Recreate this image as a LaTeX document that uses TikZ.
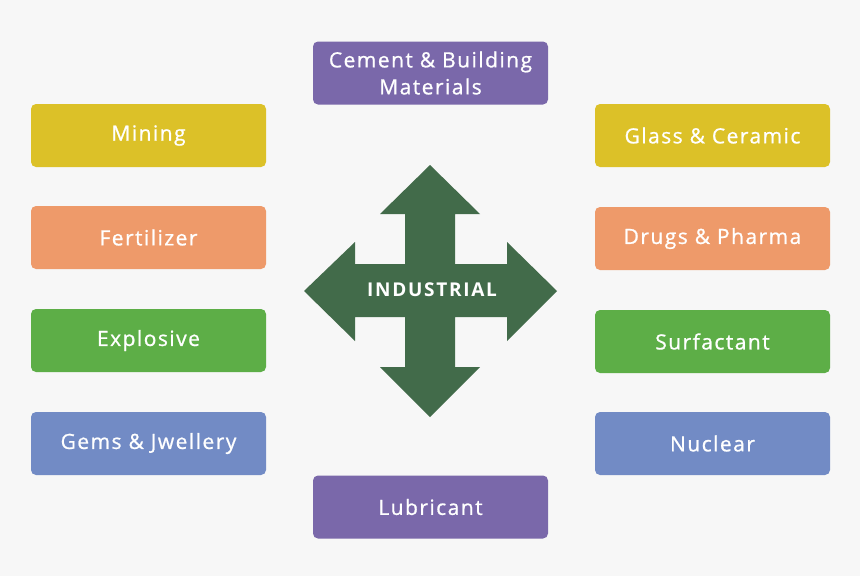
\documentclass[tikz,border=0pt]{standalone}
\usepackage{fontspec}
\setmainfont{Open Sans}[LetterSpace=7,FakeBold=0.9]
\newfontfamily\boldlab{Open Sans}[LetterSpace=9]
\definecolor{bg}{HTML}{F7F7F7}
\definecolor{cyel}{HTML}{DCC128}
\definecolor{cora}{HTML}{EE9A6A}
\definecolor{cgrn}{HTML}{5DAE47}
\definecolor{cblu}{HTML}{728BC5}
\definecolor{cpur}{HTML}{7A68AA}
\definecolor{carr}{HTML}{426B4A}
\begin{document}
\begin{tikzpicture}[x=1pt,y=-1pt,
  catbox/.style={rounded corners=5pt, minimum width=235pt, minimum height=63pt,
    text=white, font=\fontsize{21}{27}\selectfont, align=center, inner sep=2pt}]
\useasboundingbox (0,0) rectangle (860,576);
\fill[bg] (0,0) rectangle (860,576);
% central arrow
\fill[carr] (430,165) -- (480,214) -- (455,214) -- (455,264) -- (507,264) -- (507,242)
  -- (557,291) -- (507,341) -- (507,317) -- (455,317) -- (455,367) -- (480,367)
  -- (430,417) -- (380,367) -- (405,367) -- (405,317) -- (355,317) -- (355,341)
  -- (304,291) -- (355,242) -- (355,264) -- (405,264) -- (405,214) -- (380,214) -- cycle;
\node[text=white, font=\boldlab\bfseries\fontsize{19}{24}\selectfont] (ind) at (432,290) {INDUSTRIAL};
% boxes
\node[catbox, fill=cpur] (cem) at (430.5,73) {Cement \& Building\\Materials};
\node[catbox, fill=cyel] (min) at (148.5,135.5) {Mining};
\node[catbox, fill=cora] (fer) at (148.5,237.5) {Fertilizer};
\node[catbox, fill=cgrn] (exp) at (148.5,340.5) {Explosive};
\node[catbox, fill=cblu] (gem) at (148.5,443.5) {Gems \& Jwellery};
\node[catbox, fill=cyel] (gla) at (712.5,135.5) {Glass \& Ceramic};
\node[catbox, fill=cora] (dru) at (712.5,238.5) {Drugs \& Pharma};
\node[catbox, fill=cgrn] (sur) at (712.5,341.5) {Surfactant};
\node[catbox, fill=cblu] (nuc) at (712.5,443.5) {Nuclear};
\node[catbox, fill=cpur] (lub) at (430.5,507) {Lubricant};
\end{tikzpicture}
\end{document}
